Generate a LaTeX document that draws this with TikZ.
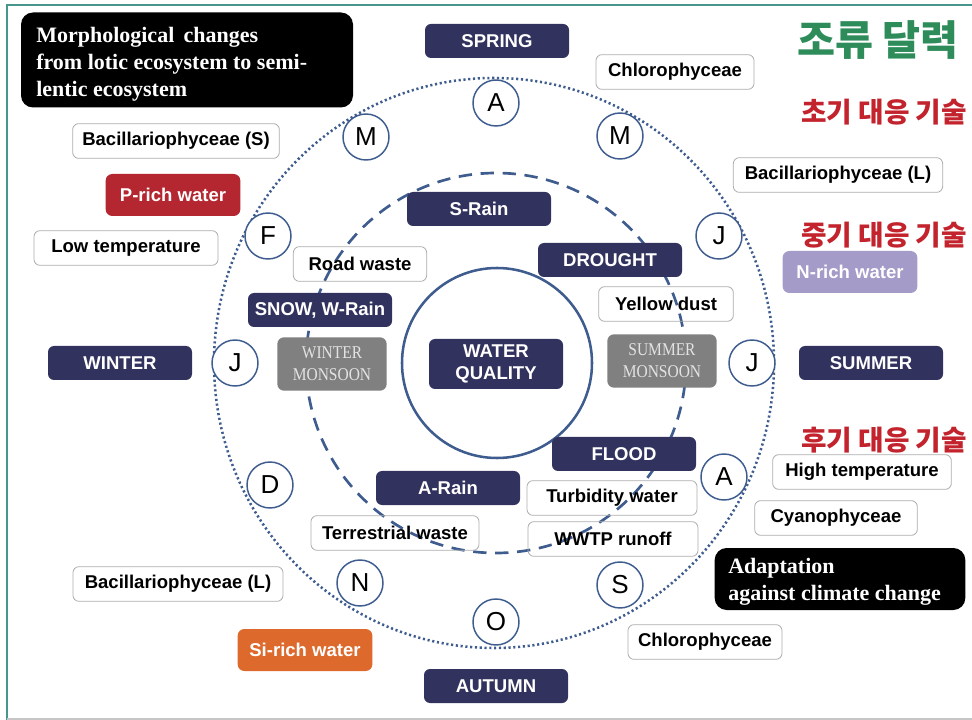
\documentclass[tikz,border=0pt]{standalone}
\usepackage{fontspec}
\setmainfont{Liberation Sans}
\newfontfamily\serifbf{Liberation Serif}
\newfontfamily\monsoonfont[FakeStretch=0.86]{Liberation Serif}
\newfontfamily\kofont{Noto Sans CJK KR}
\definecolor{navy}{RGB}{50,50,95}
\definecolor{ringblue}{RGB}{62,92,142}
\definecolor{frameteal}{RGB}{70,150,140}
\definecolor{prich}{RGB}{180,38,48}
\definecolor{nrich}{RGB}{165,155,200}
\definecolor{sirich}{RGB}{221,105,45}
\definecolor{monsoongray}{RGB}{128,128,128}
\definecolor{titlegreen}{RGB}{45,140,90}
\definecolor{techred}{RGB}{195,35,45}
\tikzstyle{labelfnt}=[font=\bfseries\fontsize{13.9}{16.5}\selectfont]
\tikzstyle{navybox}=[labelfnt,fill=navy,text=white,rounded corners=4.5pt,minimum width=108pt,minimum height=25.5pt,inner sep=0pt,align=center]
\tikzstyle{whitebox}=[labelfnt,draw=gray!65,line width=0.6pt,rounded corners=4.5pt,minimum height=26pt,inner sep=0pt]
\tikzstyle{richbox}=[labelfnt,text=white,rounded corners=5pt,minimum width=101pt,minimum height=31.5pt,inner sep=0pt]
\tikzstyle{monsoon}=[fill=monsoongray,text=black!11,rounded corners=5pt,minimum width=82pt,minimum height=40pt,inner sep=0pt,align=center,font=\monsoonfont\fontsize{13.5}{16.5}\selectfont]
\tikzstyle{blackbox}=[fill=black,rounded corners=9pt,inner sep=0pt]
\tikzstyle{notetext}=[text=white,align=left,inner sep=0pt,anchor=west,font=\serifbf\bfseries\fontsize{16.5}{20.25}\selectfont]
\tikzstyle{month}=[circle,draw=ringblue,line width=1.1pt,fill=white,minimum size=34.5pt,inner sep=0pt,font=\fontsize{19.5}{20}\selectfont]
\tikzstyle{tech}=[font=\kofont\bfseries\fontsize{20.8}{23}\selectfont,text=techred]

\begin{document}
\begin{tikzpicture}[x=0.75pt,y=-0.75pt]
    \useasboundingbox (0,0) rectangle (972,720);
    % frame
    \draw[frameteal,line width=1.5pt] (7,720) -- (7,5) -- (972,5);
    \draw[gray!45,line width=1pt] (7,719) -- (972,719);

    % rings
    \draw[ringblue,line width=1.9pt,dash pattern=on 1.6pt off 2pt] (494,363) ellipse (280 and 285);
    \draw[ringblue,line width=2pt,dash pattern=on 10pt off 6.5pt] (496,363) circle (190);
    \draw[ringblue,line width=1.9pt] (497,363) circle (95);

    % months
    \foreach \name/\lbl/\px/\py in {apr/A/496/103,may/M/620/136,jun/J/719/236,jul/J/752/363,
        aug/A/724/477,sep/S/620/585,oct/O/496/622,nov/N/360/583,dec/D/270/485,
        jan/J/235/363,feb/F/268/236,mar/M/366/137}
    \node[month] (\name) at (\px,\py) {\lbl};

    % seasons and weather
    \node[navybox] (spring) at (497,41)  {SPRING};
    \node[navybox] (summer) at (871,363) {SUMMER};
    \node[navybox] (autumn) at (496,686) {AUTUMN};
    \node[navybox] (winter) at (120,363) {WINTER};
    \node[navybox] (srain)  at (479,209) {S-Rain};
    \node[navybox] (drought) at (610,260) {DROUGHT};
    \node[navybox] (snow)   at (320,310) {SNOW, W-Rain};
    \node[navybox] (flood)  at (624,454) {FLOOD};
    \node[navybox] (arain)  at (448,488) {A-Rain};
    \node[navybox,minimum width=100.5pt,minimum height=37.5pt] (wq) at (496,364) {WATER\\QUALITY};
    \node[monsoon] (wmon) at (332,364) {WINTER\\MONSOON};
    \node[monsoon] (smon) at (662,361) {SUMMER\\MONSOON};

    % algae and sources
    \node[whitebox,minimum width=118.5pt] (chlorotop) at (675,72)  {Chlorophyceae};
    \node[whitebox,minimum width=155pt]   (bacs)      at (176,141) {Bacillariophyceae (S)};
    \node[whitebox,minimum width=157pt]   (bacltop)   at (838,175) {Bacillariophyceae (L)};
    \node[whitebox,minimum width=138pt]   (lowtemp)   at (126,248) {Low temperature};
    \node[whitebox,minimum width=100pt]   (road)      at (360,264) {Road waste};
    \node[whitebox,minimum width=101pt]   (dust)      at (666,304) {Yellow dust};
    \node[whitebox,minimum width=134pt]   (hightemp)  at (862,472) {High temperature};
    \node[whitebox,minimum width=127.5pt] (turbid)    at (612,498) {Turbidity water};
    \node[whitebox,minimum width=122pt]   (cyano)     at (836,518) {Cyanophyceae};
    \node[whitebox,minimum width=126pt]   (terr)      at (395,533) {Terrestrial waste};
    \node[whitebox,minimum width=127.5pt] (wwtp)      at (613,539) {WWTP runoff};
    \node[whitebox,minimum width=157.5pt] (bacllow)   at (178,584) {Bacillariophyceae (L)};
    \node[whitebox,minimum width=115.5pt] (chlorolow) at (705,642) {Chlorophyceae};

    % nutrients
    \node[richbox,fill=prich]  (prich)  at (173,195) {P-rich water};
    \node[richbox,fill=nrich]  (nrich)  at (850,272) {N-rich water};
    \node[richbox,fill=sirich] (sirich) at (305,650) {Si-rich water};

    % notes
    \node[blackbox,minimum width=249pt,minimum height=71.25pt] (morph) at (187,60) {};
    \node[notetext] (morphtxt) at (36,64)
        {Morphological\, changes\\from lotic ecosystem to semi-\\lentic ecosystem};
    \node[blackbox,minimum width=188pt,minimum height=46.5pt] (adapt) at (840,579) {};
    \node[notetext] (adapttxt) at (728,582) {Adaptation\\against climate change};

    % korean titles
    \node[font=\kofont\bfseries\fontsize{31}{34}\selectfont,text=titlegreen] (title) at (878,40) {조류 달력};
    \node[tech] (early) at (884,112) {초기 대응 기술};
    \node[tech] (mid)   at (884,235) {중기 대응 기술};
    \node[tech] (late)  at (884,440) {후기 대응 기술};
\end{tikzpicture}
\end{document}
